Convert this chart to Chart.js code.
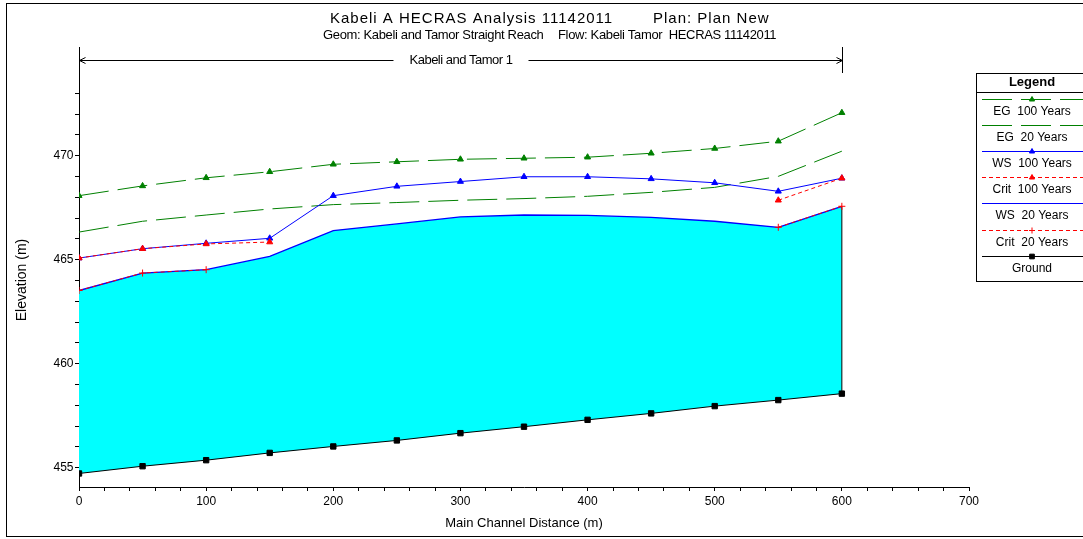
<!DOCTYPE html>
<html>
<head>
<meta charset="utf-8">
<script src="https://cdn.jsdelivr.net/npm/chart.js@4.4.1/dist/chart.umd.min.js"></script>
<style>
html,body{margin:0;padding:0;background:#fff;}
#wrap{width:1083px;height:539px;}
</style>
</head>
<body>
<div id="wrap"><canvas id="myChart" width="1083" height="539"></canvas></div>
<script>
// main channel distance (m)
var distance = [0,50,100,150,200,250,300,350,400,450,500,550,600];

// elevations (m)
var eg100   = [468.08,468.55,468.94,469.23,469.59,469.71,469.83,469.88,469.93,470.12,470.35,470.70,472.07];
var eg20    = [466.33,466.85,467.15,467.44,467.65,467.75,467.86,467.94,468.05,468.24,468.48,469.01,470.22];
var ws100   = [465.08,465.53,465.79,466.03,468.08,468.53,468.76,468.99,468.99,468.89,468.70,468.29,468.92];
var crit100 = [465.08,465.53,465.76,465.85,null,null,null,null,null,null,null,467.86,468.92];
var ws20    = [463.52,464.36,464.52,465.16,466.40,466.72,467.06,467.15,467.13,467.04,466.85,466.56,467.57];
var crit20  = [463.52,464.36,464.52,null,null,null,null,null,null,null,null,466.56,467.57];
var ground  = [454.72,455.07,455.36,455.71,456.02,456.31,456.66,456.97,457.30,457.61,457.96,458.25,458.56];

var seriesNames = ['EG  100 Years','EG  20 Years','WS  100 Years','Crit  100 Years','WS  20 Years','Crit  20 Years','Ground'];

var chartTitle = ['Kabeli A HECRAS Analysis 11142011', 'Plan: Plan New'];
var chartSubtitle = ['Geom: Kabeli and Tamor Straight Reach', 'Flow: Kabeli Tamor  HECRAS 11142011'];
var reachName = 'Kabeli and Tamor 1';
var reachStart = 0;
var reachEnd = 600;

var xTitle = 'Main Channel Distance (m)';
var yTitle = 'Elevation (m)';

var FONT = "'Liberation Sans', Arial, sans-serif";

function pts(arr){
    var out = [];
    for(let i = 0; i < distance.length; i++){
        out.push({x: distance[i], y: arr[i]});
    }
    return out;
}

// titles, reach marker, frame and legend box
var decorPlugin = {
    id: 'decor',
    afterDraw: function(chart){
        var ctx = chart.ctx;
        var xs = chart.scales.x;
        ctx.save();
        ctx.fillStyle = '#000';
        ctx.strokeStyle = '#000';
        ctx.lineWidth = 1;

        // outer frame
        ctx.strokeRect(6.5, 3.5, 1090, 533);

        // titles
        ctx.textBaseline = 'alphabetic';
        ctx.textAlign = 'left';
        ctx.font = '15px ' + FONT;
        ctx.letterSpacing = '1px';
        ctx.fillText(chartTitle[0], 330, 23);
        ctx.fillText(chartTitle[1], 653, 23);
        ctx.font = '13px ' + FONT;
        ctx.letterSpacing = '-0.35px';
        ctx.fillText(chartSubtitle[0], 323, 39);
        ctx.fillText(chartSubtitle[1], 558, 39);

        // reach marker
        var x0 = Math.round(xs.getPixelForValue(reachStart)) + 0.5;
        var x1 = Math.round(xs.getPixelForValue(reachEnd)) + 0.5;
        var ym = 60.5;
        ctx.font = '13px ' + FONT;
        ctx.letterSpacing = '-0.5px';
        var tw = ctx.measureText(reachName).width;
        var cx = (x0 + x1) / 2;
        ctx.textAlign = 'center';
        ctx.textBaseline = 'middle';
        ctx.fillText(reachName, cx, ym);
        ctx.beginPath();
        ctx.moveTo(x0, 47); ctx.lineTo(x0, chart.chartArea.top);
        ctx.moveTo(x1, 47); ctx.lineTo(x1, chart.chartArea.top);
        ctx.moveTo(x0, ym); ctx.lineTo(cx - tw/2 - 16, ym);
        ctx.moveTo(cx + tw/2 + 16, ym); ctx.lineTo(x1, ym);
        ctx.moveTo(x0 + 6, ym - 3); ctx.lineTo(x0, ym); ctx.lineTo(x0 + 6, ym + 3);
        ctx.moveTo(x1 - 6, ym - 3); ctx.lineTo(x1, ym); ctx.lineTo(x1 - 6, ym + 3);
        ctx.stroke();

        // legend
        var lx = 976.5, ly = 73.5, lb = 281.5;
        ctx.letterSpacing = '0px';
        ctx.strokeRect(lx, ly, 120, lb - ly);
        ctx.beginPath();
        ctx.moveTo(lx, 92.5); ctx.lineTo(1090, 92.5);
        ctx.stroke();
        ctx.font = 'bold 13px ' + FONT;
        ctx.fillText('Legend', 1032, 82.5);
        for(let i = 0; i < seriesNames.length; i++){
            var ds = chart.data.datasets[i];
            var sy = Math.round(99 + 26.1 * i) + 0.5;
            ctx.save();
            ctx.strokeStyle = ds.borderColor;
            ctx.fillStyle = ds.borderColor;
            ctx.lineWidth = 1;
            ctx.setLineDash(ds.borderDash || []);
            ctx.beginPath();
            ctx.moveTo(982, sy); ctx.lineTo(1083, sy);
            ctx.stroke();
            ctx.setLineDash([]);
            if(ds.pointRadius > 0){
                Chart.helpers.drawPoint(ctx, {pointStyle: ds.pointStyle, radius: ds.pointRadius - 0.5, borderWidth: 1, rotation: 0}, 1032, sy);
            }
            ctx.restore();
            ctx.fillStyle = '#000';
            ctx.font = '12px ' + FONT;
            ctx.fillText(seriesNames[i], 1032, sy + 12);
        }
        ctx.restore();
    }
};

function createChart(){
    var ctx = document.getElementById('myChart');
    var datasets = [
        {label: seriesNames[0], data: pts(eg100), borderColor: '#008000', backgroundColor: '#008000', borderDash: [30,9],
         pointStyle: 'triangle', pointRadius: 3.5, order: 4},
        {label: seriesNames[1], data: pts(eg20), borderColor: '#008000', backgroundColor: '#008000', borderDash: [30,9],
         pointRadius: 0, order: 5},
        {label: seriesNames[2], data: pts(ws100), borderColor: '#0000ff', backgroundColor: '#0000ff',
         pointStyle: 'triangle', pointRadius: 3.5, order: 3},
        {label: seriesNames[3], data: pts(crit100), borderColor: '#ff0000', backgroundColor: '#ff0000', borderDash: [4,3],
         pointStyle: 'triangle', pointRadius: 3.5, order: 1},
        {label: seriesNames[4], data: pts(ws20), borderColor: '#0000ff', backgroundColor: '#00ffff', borderWidth: 1.3,
         pointRadius: 0, fill: 6, order: 8},
        {label: seriesNames[5], data: pts(crit20), borderColor: '#ff0000', backgroundColor: '#ff0000', borderDash: [4,3],
         pointStyle: 'cross', pointRadius: 3.5, order: 2},
        {label: seriesNames[6], data: pts(ground), borderColor: '#000000', backgroundColor: '#000000',
         pointStyle: 'rect', pointRadius: 3.8, order: 6},
        {label: 'edge', data: [{x: distance[12], y: ground[12]}, {x: distance[12], y: ws20[12]}],
         borderColor: '#000000', pointRadius: 0, order: 7}
    ];
    datasets.forEach(function(d){
        if(d.borderWidth === undefined) d.borderWidth = 1;
        d.pointBorderColor = d.borderColor;
        d.pointBackgroundColor = d.borderColor;
        d.pointBorderWidth = 1;
        d.spanGaps = false;
        d.tension = 0;
        if(d.fill === undefined) d.fill = false;
    });

    var myChart = new Chart(ctx, {
        type: 'line',
        data: {datasets: datasets},
        plugins: [decorPlugin],
        options: {
            responsive: false,
            animation: false,
            devicePixelRatio: 1,
            layout: {padding: {left: 6, right: 114, top: 73, bottom: 6}},
            plugins: {
                legend: {display: false},
                tooltip: {enabled: false},
                title: {display: false}
            },
            scales: {
                x: {
                    type: 'linear',
                    min: 0, max: 700,
                    afterFit: function(s){ s.height = 46; },
                    grid: {drawOnChartArea: false, drawTicks: true, tickLength: 4, color: '#000'},
                    border: {display: true, color: '#000', width: 1},
                    ticks: {
                        stepSize: 20, autoSkip: false, maxRotation: 0, minRotation: 0, padding: 3,
                        color: '#000', font: {family: FONT, size: 12},
                        callback: function(v){ return v % 100 === 0 ? v : ''; }
                    },
                    title: {display: true, text: xTitle, color: '#000', font: {family: FONT, size: 13}, padding: {top: 0, bottom: 2}}
                },
                y: {
                    type: 'linear',
                    min: 454.07, max: 473.98,
                    afterFit: function(s){ s.width = 73; },
                    grid: {drawOnChartArea: false, drawTicks: true, tickLength: 4, color: '#000'},
                    border: {display: true, color: '#000', width: 1},
                    ticks: {
                        stepSize: 1, includeBounds: false, autoSkip: false, padding: 1.5,
                        color: '#000', font: {family: FONT, size: 12},
                        callback: function(v){ return Math.abs(v % 5) < 1e-6 ? v : ''; }
                    },
                    title: {display: true, text: yTitle, color: '#000', font: {family: FONT, size: 14}, padding: {top: 8, bottom: 0}}
                }
            }
        }
    });
    return myChart;
}

createChart();
</script>
</body>
</html>
